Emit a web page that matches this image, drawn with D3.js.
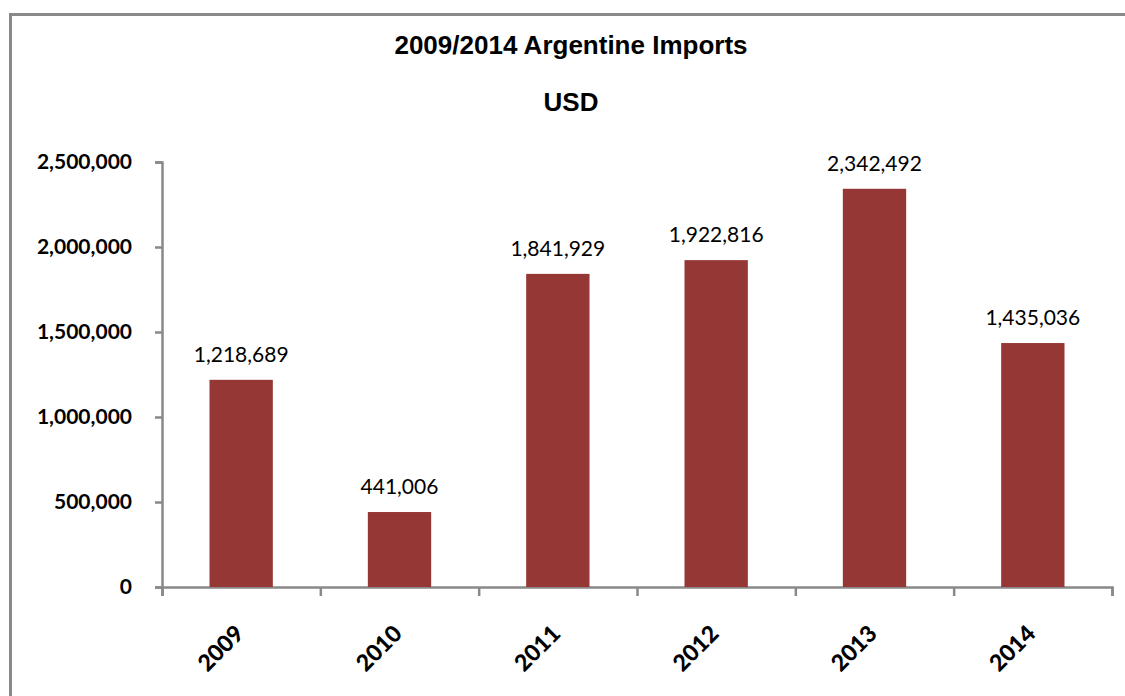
<html>
<head>
<style>
    body { margin: 0; background: #fff; }
    svg { display: block; }
    .axis .domain, .axis .tick line { stroke: #898989; stroke-width: 2.5px; }
    .y.axis text { font-family: Lato, sans-serif; font-weight: bold; font-size: 21px; fill: #000; }
    .x.axis text { font-family: Lato, sans-serif; font-weight: 900; font-size: 23px; fill: #000; }
    .value { font-family: Lato, sans-serif; font-size: 21px; fill: #000; }
    .title { font-family: 'Liberation Sans', Arial, sans-serif; font-weight: bold; font-size: 26px; fill: #000; }
</style>
</head>
<body>
<svg width="1125" height="696"></svg>

<script src="https://d3js.org/d3.v7.min.js"></script>
<script>
    let years = ["2009", "2010", "2011", "2012", "2013", "2014"]
    let imports = [1218689, 441006, 1841929, 1922816, 2342492, 1435036]
    let yTicks = [0, 500000, 1000000, 1500000, 2000000, 2500000]

    let width = 1125
    let height = 696
    let margin = {top: 162, right: 13, bottom: 109, left: 162}

    let svg = d3.select("svg")

    // chart frame, runs off the right and bottom edges like the original
    svg.append("rect")
        .attr("x", 10.5)
        .attr("y", 14.5)
        .attr("width", width + 20)
        .attr("height", height + 20)
        .style("fill", "none")
        .style("stroke", "#898989")
        .style("stroke-width", 3)

    svg.append("text")
        .attr("class", "title")
        .attr("x", 571)
        .attr("y", 54)
        .attr("text-anchor", "middle")
        .text("2009/2014 Argentine Imports")

    svg.append("text")
        .attr("class", "title")
        .attr("x", 571)
        .attr("y", 111)
        .attr("text-anchor", "middle")
        .text("USD")

    let x = d3.scaleBand()
        .domain(years)
        .range([margin.left, width - margin.right])
        .paddingInner(0.6)
        .paddingOuter(0.3)

    let y = d3.scaleLinear()
        .domain([0, 2500000])
        .range([height - margin.bottom, margin.top])

    let yAxis = svg.append("g")
        .attr("class", "y axis")
        .attr("transform", `translate(${margin.left}, 0)`)
        .call(d3.axisLeft(y)
            .tickValues(yTicks)
            .tickSize(7)
            .tickSizeOuter(7)
            .tickPadding(23)
            .tickFormat(d3.format(",")))

    // ticks between categories, not under them
    let xEdges = d3.scaleLinear()
        .domain([0, years.length])
        .range([margin.left, width - margin.right])

    let xAxis = svg.append("g")
        .attr("class", "x axis")
        .attr("transform", `translate(0, ${height - margin.bottom})`)
        .call(d3.axisBottom(xEdges)
            .tickValues(d3.range(years.length + 1))
            .tickSize(9)
            .tickSizeOuter(9)
            .tickFormat(""))

    svg.append("g")
        .attr("class", "x axis")
        .selectAll("text")
        .data(years)
        .join("text")
        .attr("text-anchor", "end")
        .attr("transform", d => `translate(${x(d) + x.bandwidth() / 2 + 4}, ${height - margin.bottom + 48}) rotate(-45)`)
        .text(d => d)

    let data = years.map((d, i) => ({year: d, value: imports[i]}))

    svg.append("g")
        .selectAll(".bar")
        .data(data)
        .join("rect")
        .attr("class", "bar")
        .attr("x", d => x(d.year))
        .attr("width", x.bandwidth())
        .attr("y", d => y(d.value))
        .attr("height", d => y(0) - y(d.value))
        .style("fill", "#953735")

    svg.append("g")
        .selectAll(".value")
        .data(data)
        .join("text")
        .attr("class", "value")
        .attr("x", d => x(d.year) + x.bandwidth() / 2)
        .attr("y", d => y(d.value) - 18)
        .attr("text-anchor", "middle")
        .text(d => d3.format(",")(d.value))
</script>
</body>
</html>
